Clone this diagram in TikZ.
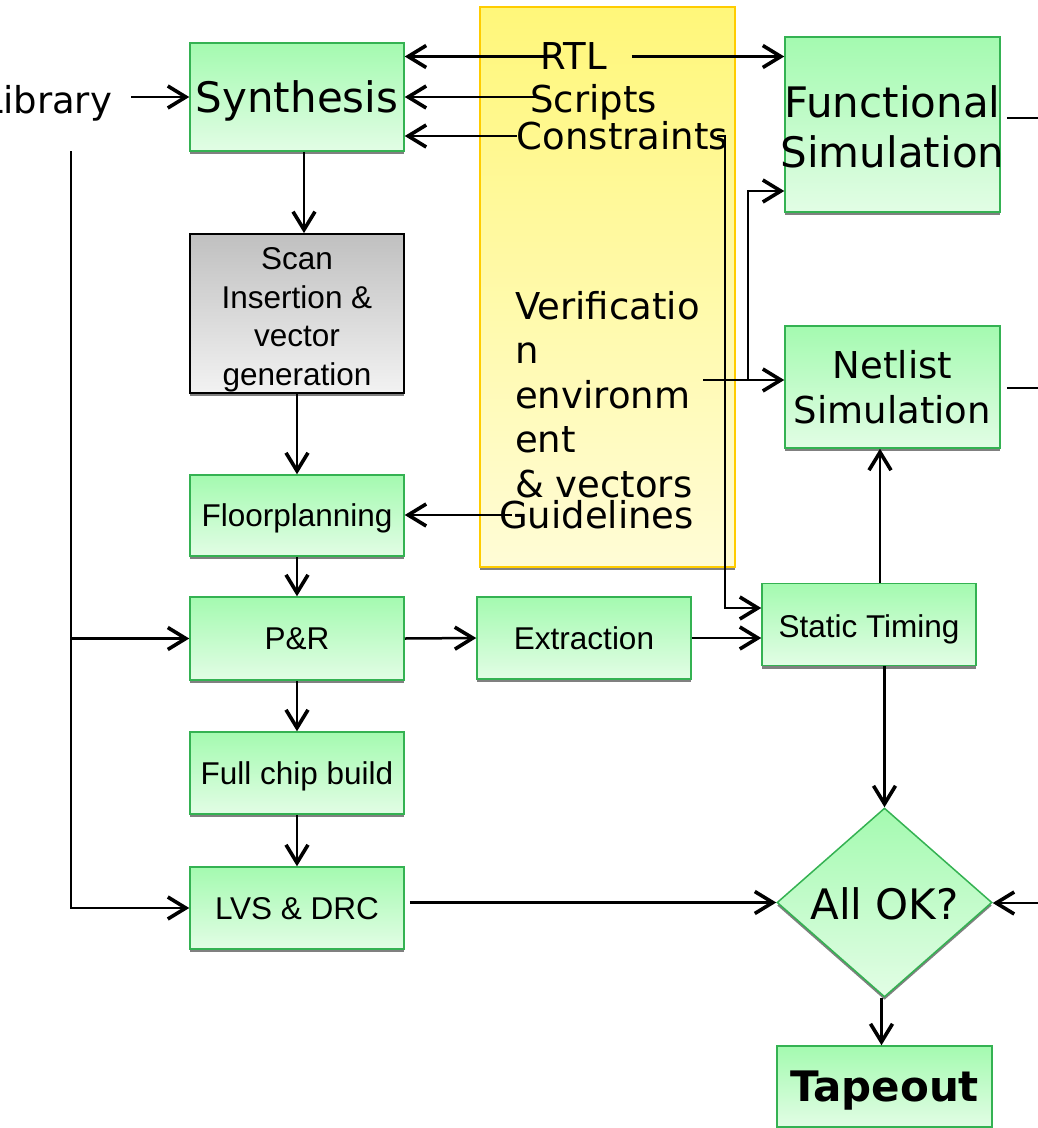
\documentclass[tikz,border=0pt]{standalone}
\usepackage{fontspec}
\setmainfont{DejaVu Sans}
\newfontfamily\arialf{Liberation Sans}
\usetikzlibrary{arrows.meta,shapes.geometric}
\definecolor{gtop}{RGB}{164,250,176}
\definecolor{gbot}{RGB}{226,253,229}
\definecolor{gline}{RGB}{52,178,82}
\definecolor{ytop}{RGB}{255,247,122}
\definecolor{ybot}{RGB}{255,252,214}
\definecolor{yline}{RGB}{255,204,0}
\definecolor{shadc}{RGB}{128,128,128}
\definecolor{stop}{RGB}{192,192,192}
\definecolor{sbot}{RGB}{242,242,242}
\newcommand\FBig{\fontsize{42pt}{50.5pt}\selectfont}
\newcommand\FMid{\fontsize{37pt}{44.5pt}\selectfont}
\newcommand\FAr{\arialf\fontsize{31.5pt}{38.5pt}\selectfont}
\begin{document}
\begin{tikzpicture}[x=1pt,y=-1pt,
  shad/.style={preaction={fill=shadc,transform canvas={yshift=-3pt}}},
  gbox/.style={rectangle,draw=gline,line width=1.5pt,top color=gtop,bottom color=gbot,
    inner sep=0pt,align=center,text depth=0pt,shad,minimum width=214pt},
  graybox/.style={rectangle,draw=black,line width=1.8pt,top color=stop,bottom color=sbot,
    inner sep=0pt,align=center,text depth=0pt,shad,minimum width=214pt},
  ybox/.style={rectangle,draw=yline,line width=1.5pt,top color=ytop,bottom color=ybot,
    inner sep=0pt,shad},
  gdiam/.style={diamond,draw=gline,line width=1.5pt,top color=gtop,bottom color=gbot,
    inner sep=0pt,shad},
  txt/.style={inner sep=0pt,align=center},
  arr/.style={line width=2.5pt,-{Straight Barb[length=18pt,width=22pt,line width=3.6pt]}},
  ln/.style={line width=2.5pt}
]
\fill[white] (0,0) rectangle (1037,1128);
\useasboundingbox (0,0) rectangle (1037,1128);

% yellow panel
\node[ybox,minimum width=255pt,minimum height=560pt] (yel) at (607.5,287) {};

% boxes
\node[gbox,minimum height=108pt,font=\FBig] (synth) at (297,97) {Synthesis};
\node[graybox,minimum height=159pt,font=\FAr] (scan) at (297,313.5) {};
\node[txt,font=\FAr,text depth=0pt] (scantxt) at (297,316.5) {Scan\\Insertion \&\\vector\\generation};
\node[gbox,minimum height=81pt,font=\FAr] (fp) at (297,515.5) {Floorplanning};
\node[gbox,minimum height=83pt,font=\FAr] (pr) at (297,638.5) {P\&R};
\node[gbox,minimum height=82pt,font=\FAr] (fcb) at (297,773) {Full chip build};
\node[gbox,minimum height=82pt,font=\FAr] (lvs) at (297,908) {LVS \& DRC};
\node[gbox,minimum height=82pt,font=\FAr] (ex) at (584,638) {Extraction};
\node[gbox,minimum height=82pt,font=\FAr] (st) at (869,624.5) {};
\node[txt,font=\FAr,text depth=0pt] (sttxt) at (869,626) {Static Timing};
\node[gbox,minimum width=215pt,minimum height=175pt] (fs) at (892.5,124.5) {};
\node[txt,font=\FBig,text depth=0pt] (fstxt) at (892.5,126.5) {Functional\\Simulation};
\node[gbox,minimum width=215pt,minimum height=122pt,font=\FMid] (ns) at (892.5,387) {Netlist\\Simulation};
\node[gdiam,minimum width=215pt,minimum height=189pt] (ok) at (884.5,902.5) {};
\node[txt,font=\FBig,text depth=0pt] (oktxt) at (884.5,904) {All OK?};
\node[gbox,minimum width=215pt,minimum height=81pt,font=\FBig\bfseries] (tape) at (884.5,1086.5) {Tapeout};

% free texts
\node[txt,font=\FMid] (lib) at (47.3,103.5) {Library};
\node[txt,font=\FMid] (rtl) at (574,56.5) {RTL};
\node[txt,font=\FMid] (scr) at (593.5,102) {Scripts};
\node[txt,font=\FMid] (cons) at (622.5,136) {Constraints};
\node[txt,font=\FMid,align=left,anchor=west] (ver) at (515,394.5) {Verificatio\\n\\environm\\ent\\\& vectors};
\node[txt,font=\FMid] (guide) at (596.5,515) {Guidelines};

% coordinates for free ends / bends
\coordinate (libtop) at (71,151);
\coordinate (cbend) at (725,608);
\coordinate (vout) at (703,380);
\coordinate (vbr) at (748,380);
\coordinate (fsr) at (1040,118);
\coordinate (nsr) at (1040,388);
\coordinate (okr) at (1040,903);

% connectors
\draw[arr,shorten <=19pt] (lib.east |- synth.west) -- (synth.west);
\draw[arr] (libtop) |- (lvs.west);
\draw[arr] (libtop |- pr.west) -- (pr.west);

\draw[arr,shorten <=-15.5pt] (rtl.west) -- (rtl.west -| synth.east);
\draw[arr,shorten <=24.5pt] (rtl.east) -- (rtl.east -| fs.west);
\draw[arr,shorten <=-7pt] ([yshift=5pt]scr.west) -- ([yshift=5pt]scr.west -| synth.east);
\draw[arr] (cons.west) -- (cons.west -| synth.east);
\draw[arr] ([xshift=-11pt]cons.east) -| (cbend) -- (cbend -| st.west);
\draw[arr,shorten <=-13pt] (guide.west) -- (guide.west -| fp.east);

\draw[arr] (vout) -- (vout -| ns.west);
\draw[arr] (vbr) |- ([yshift=-66.5pt]fs.west);

\draw[arr] ([xshift=7pt]synth.south) -- ([xshift=7pt]scan.north);
\draw[arr] (scan.south) -- (fp.north);
\draw[arr] (fp.south) -- (pr.north);
\draw[arr] (pr.south) -- (fcb.north);
\draw[arr] (fcb.south) -- (lvs.north);
\draw[arr] (pr.east) -- (ex.west);
\draw[arr] (ex.east) -- (ex.east -| st.west);
\draw[arr] ([xshift=11pt]st.north) -- ([xshift=11pt]st.north |- ns.south);
\draw[arr] (st.south -| ok.north) -- (ok.north);
\draw[arr,shorten <=5pt] (lvs.east |- ok.west) -- (ok.west);
\draw[arr] ([xshift=-3pt]ok.south) -- ([xshift=-3pt]tape.north);

\draw[ln,shorten <=6pt] (fs.east |- fsr) -- (fsr);
\draw[ln,shorten <=6pt] (ns.east |- nsr) -- (nsr);
\draw[arr] (okr) -- (okr -| ok.east);
\end{tikzpicture}
\end{document}
